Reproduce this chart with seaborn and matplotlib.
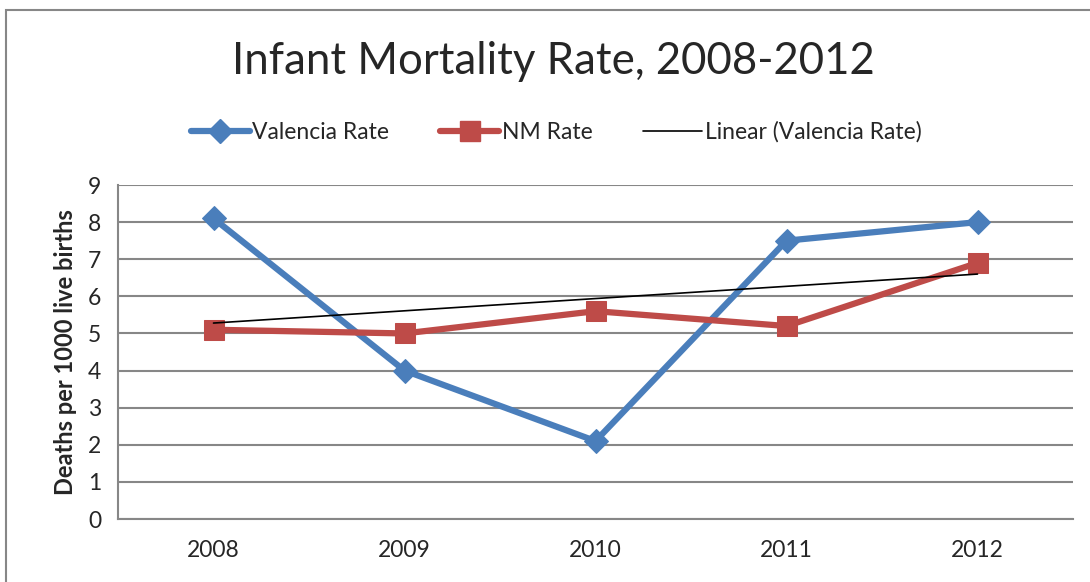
import numpy as np
import pandas as pd
import matplotlib
matplotlib.use("Agg")
import matplotlib.pyplot as plt
import seaborn as sns
from matplotlib.lines import Line2D
from matplotlib.patches import Rectangle

# Dados do gráfico
anos = ["2008", "2009", "2010", "2011", "2012"]
valencia = [8.1, 4.0, 2.1, 7.5, 8.0]
nm = [5.1, 5.0, 5.6, 5.2, 6.9]

azul = "#4a7ebb"
vermelho = "#be4b48"

df = pd.DataFrame({"pos": np.arange(len(anos)), "Ano": anos,
                   "Valencia Rate": valencia, "NM Rate": nm})

sns.set_style("white")
plt.rcParams["font.family"] = ["Lato", "DejaVu Sans"]

fig = plt.figure(figsize=(10.9, 5.82), dpi=100)
ax = fig.add_axes([118 / 1090, 1 - 519 / 582, (1073 - 118) / 1090, (519 - 185) / 582])

# Linhas das séries
sns.lineplot(data=df, x="pos", y="Valencia Rate", ax=ax, color=azul, lw=4.5,
             marker="D", markersize=12, markeredgecolor=azul, zorder=3)
sns.lineplot(data=df, x="pos", y="NM Rate", ax=ax, color=vermelho, lw=4.5,
             marker="s", markersize=14, markeredgecolor=vermelho, zorder=3)

# Linha de tendência linear (Valencia)
sns.regplot(data=df, x="pos", y="Valencia Rate", ax=ax, ci=None, scatter=False,
            truncate=True, line_kws={"color": "black", "lw": 1.2, "zorder": 4})

ax.set_xlim(-0.5, len(anos) - 0.5)
ax.set_ylim(0, 9)
ax.set_yticks(range(0, 10))
ax.set_xticks(np.arange(len(anos)))
ax.set_xticklabels(anos)
ax.set_xticks(np.arange(-0.5, len(anos)), minor=True)
ax.tick_params(axis="x", which="major", length=0, labelsize=16.5, pad=15)
ax.tick_params(axis="x", which="minor", length=6, width=1.5, color="#878787", direction="out")
ax.tick_params(axis="y", length=6, width=1.5, color="#878787", labelsize=16.5, pad=6)
ax.grid(axis="y", color="#878787", lw=1.5)
ax.set_axisbelow(True)
for lado in ["top", "right"]:
    ax.spines[lado].set_visible(False)
for lado in ["left", "bottom"]:
    ax.spines[lado].set_color("#878787")
    ax.spines[lado].set_linewidth(1.5)

ax.set_xlabel("")
ax.set_ylabel("Deaths per 1000 live births", fontsize=17, fontweight="bold", labelpad=8)

fig.text(553 / 1090, 1 - 62 / 582, "Infant Mortality Rate, 2008-2012", ha="center", va="center", fontsize=31.5)

# Legenda
handles = [
    Line2D([], [], color=azul, lw=4.5, marker="D", markersize=12),
    Line2D([], [], color=vermelho, lw=4.5, marker="s", markersize=14),
    Line2D([], [], color="black", lw=1.2),
]
fig.legend(handles, ["Valencia Rate", "NM Rate", "Linear (Valencia Rate)"], loc="center",
           bbox_to_anchor=(556 / 1090, 1 - 132 / 582), ncol=3, frameon=False, fontsize=16.5,
           handlelength=2.6, handletextpad=0.1, columnspacing=2.2)

# Borda externa do gráfico
fig.patches.append(Rectangle((6 / 1090, -0.05), 1.2, 1 - 9.5 / 582 + 0.05, transform=fig.transFigure,
                             fill=False, edgecolor="#878787", lw=1.5))

fig.savefig("out.png", dpi=100)
